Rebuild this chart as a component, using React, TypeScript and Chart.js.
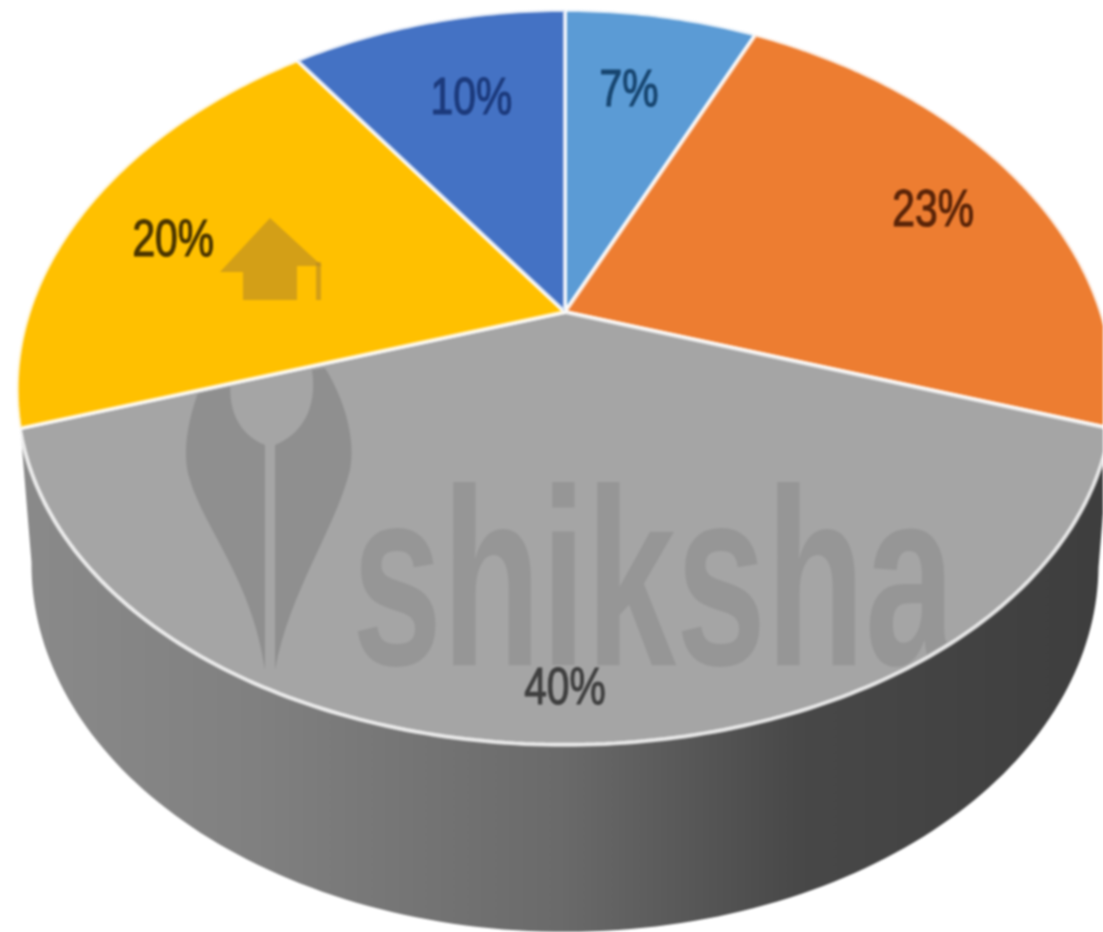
import React, { useEffect, useRef } from "react";
import { Chart, registerables } from "chart.js";

Chart.register(...registerables);

const categories = ["A", "B", "C", "D", "E"];
const shares = [7, 23, 40, 20, 10];
const sliceColors = ["#5B9BD5", "#ED7D31", "#A5A5A5", "#FFC000", "#4472C4"];
const labelColors = ["#17456f", "#5a2408", "#3f3f3f", "#4a3500", "#1c3a7c"];
const labelRadius = [0.72, 0.76, 0.89, 0.68, 0.71];
const labelShiftX = [-9, 17, 0, -60, 9];

const APEX_X = 565;
const APEX_Y = 312;
const WIDTH_K = 536;
const WIDTH_TILT = 18;
const DEPTH_K = 355.8;
const PERSP = -0.178;
const WALL_DROP = 187;
const WALL_WIDTH_K = 525;
const FONT = '"Liberation Sans", Arimo, sans-serif';

const project = (u: number, v: number, k = WIDTH_K, tilt = WIDTH_TILT, drop = 0): [number, number] => {
  const w = 1 + PERSP * v;
  return [APEX_X + ((k + tilt * v) * u) / w, APEX_Y + drop + (DEPTH_K * v) / w];
};

const perspectivePie = {
  id: "perspectivePie",
  beforeDatasetsDraw(chart: any) {
    const ctx = chart.ctx;
    const arcs = chart.getDatasetMeta(0).data;
    const { x: cx, y: cy, outerRadius: R } = arcs[0];

    // Side wall under the grey slice
    const big = arcs[2];
    const grad = ctx.createLinearGradient(20, 0, 1100, 0);
    grad.addColorStop(0, "#8a8a8a");
    grad.addColorStop(0.22, "#808080");
    grad.addColorStop(0.5, "#6a6a6a");
    grad.addColorStop(0.72, "#484848");
    grad.addColorStop(1, "#3e3e3e");
    ctx.save();
    ctx.beginPath();
    for (let a = big.startAngle; a <= big.endAngle; a += 0.02) {
      const p = project(Math.cos(a), Math.sin(a));
      ctx.lineTo(p[0], p[1]);
    }
    const from = big.endAngle + 0.14;
    const to = big.startAngle - 0.14;
    for (let a = from; a >= to; a -= 0.02) {
      const p = project(Math.cos(a), Math.sin(a), WALL_WIDTH_K, 0, WALL_DROP);
      ctx.lineTo(p[0], p[1]);
    }
    ctx.closePath();
    ctx.fillStyle = grad;
    ctx.fill();
    ctx.restore();

    // Route the library's own arc paths through the perspective
    const map = (x: number, y: number) => project((x - cx) / R, (y - cy) / R);
    const line = ctx.lineTo.bind(ctx);
    const move = ctx.moveTo.bind(ctx);
    ctx.lineTo = (x: number, y: number) => {
      const p = map(x, y);
      line(p[0], p[1]);
    };
    ctx.moveTo = (x: number, y: number) => {
      const p = map(x, y);
      move(p[0], p[1]);
    };
    ctx.arc = (x: number, y: number, r: number, a0: number, a1: number) => {
      const n = Math.max(2, Math.ceil(Math.abs(a1 - a0) / 0.015));
      for (let i = 0; i <= n; i++) {
        const a = a0 + ((a1 - a0) * i) / n;
        const p = map(x + r * Math.cos(a), y + r * Math.sin(a));
        line(p[0], p[1]);
      }
    };
  },
  afterDatasetsDraw(chart: any) {
    const ctx = chart.ctx;
    delete ctx.lineTo;
    delete ctx.moveTo;
    delete ctx.arc;
    const arcs = chart.getDatasetMeta(0).data;

    // Watermark, confined to the grey slice
    const big = arcs[2];
    ctx.save();
    ctx.beginPath();
    ctx.moveTo(APEX_X, APEX_Y);
    for (let a = big.startAngle; a <= big.endAngle; a += 0.02) {
      const p = project(0.995 * Math.cos(a), 0.995 * Math.sin(a));
      ctx.lineTo(p[0], p[1]);
    }
    ctx.closePath();
    ctx.clip();

    ctx.save();
    ctx.fillStyle = "rgba(105,105,105,0.23)";
    ctx.font = `bold 252px ${FONT}`;
    ctx.textAlign = "left";
    ctx.textBaseline = "alphabetic";
    const wm = "shiksha";
    const wmW = ctx.measureText(wm).width;
    ctx.translate(352, 665);
    ctx.scale(603 / wmW, 1);
    ctx.fillText(wm, 0, 0);
    ctx.restore();

    ctx.fillStyle = "rgba(105,105,105,0.36)";
    ctx.beginPath();
    ctx.moveTo(205, 375);
    ctx.bezierCurveTo(190, 410, 180, 450, 190, 480);
    ctx.bezierCurveTo(205, 530, 252, 580, 265, 670);
    ctx.lineTo(265, 445);
    ctx.bezierCurveTo(240, 435, 225, 410, 232, 370);
    ctx.closePath();
    ctx.moveTo(275, 445);
    ctx.lineTo(275, 670);
    ctx.bezierCurveTo(290, 590, 335, 530, 350, 470);
    ctx.bezierCurveTo(356, 440, 345, 400, 325, 368);
    ctx.lineTo(312, 370);
    ctx.bezierCurveTo(318, 410, 300, 435, 275, 445);
    ctx.closePath();
    ctx.fill();
    ctx.restore();

    ctx.save();
    ctx.fillStyle = "rgba(180,135,40,0.58)";
    ctx.beginPath();
    ctx.moveTo(270, 218);
    ctx.lineTo(322, 266);
    ctx.lineTo(297, 266);
    ctx.lineTo(297, 300);
    ctx.lineTo(243, 300);
    ctx.lineTo(243, 272);
    ctx.lineTo(220, 272);
    ctx.closePath();
    ctx.fill();
    ctx.fillRect(316, 262, 5, 38);
    ctx.restore();

    // Percentage labels
    arcs.forEach((arc: any, i: number) => {
      const mid = (arc.startAngle + arc.endAngle) / 2;
      const p = project(labelRadius[i] * Math.cos(mid), labelRadius[i] * Math.sin(mid));
      ctx.save();
      ctx.font = `51px ${FONT}`;
      ctx.textAlign = "center";
      ctx.textBaseline = "middle";
      ctx.translate(p[0] + labelShiftX[i], p[1] + 2);
      ctx.scale(0.8, 1);
      ctx.fillStyle = labelColors[i];
      ctx.strokeStyle = labelColors[i];
      ctx.lineWidth = 1.2;
      ctx.fillText(`${shares[i]}%`, 0, 0);
      ctx.strokeText(`${shares[i]}%`, 0, 0);
      ctx.restore();
    });
  },
};

export default function App() {
  const ref = useRef<HTMLCanvasElement>(null);
  useEffect(() => {
    document.body.style.margin = "0";
    document.body.style.background = "#ffffff";
    const chart = new Chart(ref.current!, {
      type: "pie",
      data: {
        labels: categories,
        datasets: [
          {
            data: shares,
            backgroundColor: sliceColors,
            borderColor: "rgba(255,255,255,0.78)",
            borderWidth: 4,
            clip: false,
          } as any,
        ],
      },
      options: {
        animation: false,
        responsive: false,
        rotation: 0,
        layout: { padding: 0 },
        plugins: { legend: { display: false }, tooltip: { enabled: false } },
      },
      plugins: [perspectivePie],
    });
    return () => chart.destroy();
  }, []);
  return (
    <div style={{ width: 1103, height: 932, overflow: "hidden", background: "#fff" }}>
      <canvas ref={ref} width={1103} height={932} style={{ display: "block", filter: "blur(1.2px)" }} />
    </div>
  );
}
